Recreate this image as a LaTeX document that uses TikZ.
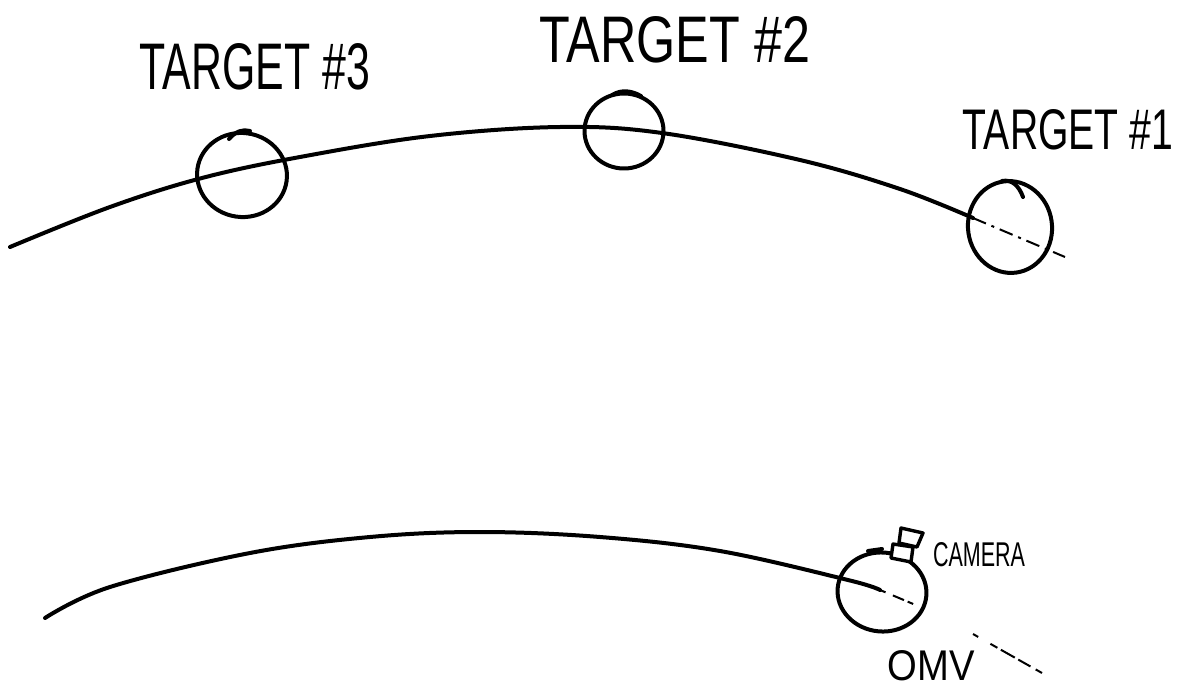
\documentclass[tikz,border=0pt]{standalone}
\usepackage{fontspec}
\setmainfont{Liberation Sans}
\usetikzlibrary{shapes.geometric}

\tikzset{
  pen/.style={line width=4pt, line cap=round, line join=round},
  orb/.style={ellipse, draw, pen, inner sep=0pt},
  trail/.style={line width=2pt, dash pattern=on 14pt off 6pt on 3pt off 6pt},
  lbl/.style={inner sep=0pt},
  cambox/.style={draw, pen, line width=3.4pt, fill=white},
}
% squeeze a label into a fixed box
\newcommand{\hand}[3]{\resizebox{#1}{#2}{#3}}

\begin{document}
\begin{tikzpicture}[x=1pt,y=-1pt]
\useasboundingbox (0,0) rectangle (1192,688);

% targets on the upper orbit
\node[orb, minimum width=90pt, minimum height=84pt, rotate=-8] (tgt3) at (242,175) {};
\node[orb, minimum width=79pt, minimum height=75pt] (tgt2) at (624,131) {};
\node[orb, minimum width=84pt, minimum height=92pt, rotate=8] (tgt1) at (1010,227) {};

% pen overlaps at the top of each loop
\draw[pen] (250,131) .. controls (243,129) and (236,131) .. (229,139);
\draw[pen] (612,95) .. controls (622,89) and (632,91) .. (641,96);
\draw[pen] (1002,181) .. controls (1012,179) and (1019,186) .. (1023,197);

\node[lbl] (lbl3) at (255,67) {\hand{230pt}{46pt}{TARGET \#3}};
\node[lbl] (lbl2) at (675,40) {\hand{270pt}{46pt}{TARGET \#2}};
\node[lbl] (lbl1) at (1068,130) {\hand{210pt}{40pt}{TARGET \#1}};

% upper orbit
\coordinate (up0) at (10,247);
\coordinate (up1) at (973,218);
\coordinate (up2) at (1065,257);
\draw[pen] plot[smooth, tension=0.6] coordinates
  {(up0) (110,207) (202,178) (300,157) (430,136) (560,127) (662,133) (800,160) (900,189) (up1)};
\draw[trail] (up1) -- (up2);

% chaser on the lower orbit
\node[orb, minimum width=89pt, minimum height=79pt, rotate=-5] (omv) at (882,592) {};
\draw[pen] (868,551) -- (882,549);
\draw[cambox] (893,544) -- (913,547) -- (911,562) -- (891,558) -- cycle;
\draw[cambox] (901,528) -- (923,533) -- (917,547) -- (899,543) -- cycle;

\node[lbl] (cam) at (979,555) {\hand{92pt}{24pt}{CAMERA}};
\node[lbl] (omvlbl) at (931,666) {\hand{87pt}{30pt}{OMV}};

\coordinate (lo0) at (45,618);
\coordinate (lo1) at (880,590);
\coordinate (lo2) at (918,606);
\coordinate (lo3) at (973,634);
\coordinate (lo4) at (1042,673);
\draw[pen] plot[smooth, tension=0.6] coordinates
  {(lo0) (110,587) (250,553) (370,537) (480,532) (600,537) (720,551) (848,580) (lo1)};
\draw[line width=2pt, dash pattern=on 6pt off 8pt on 12pt off 4pt] (lo1) -- (lo2);
\draw[line width=2pt, dash pattern=on 6pt off 14pt on 8pt off 4pt on 16pt off 4pt on 14pt] (lo3) -- (lo4);

\end{tikzpicture}
\end{document}
